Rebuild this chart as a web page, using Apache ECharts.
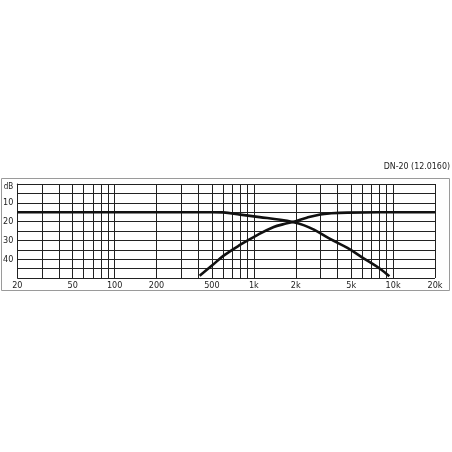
<!DOCTYPE html>
<html><head><meta charset="utf-8">
<script src="https://cdn.jsdelivr.net/npm/echarts@6/dist/echarts.min.js"></script>
<style>html,body{margin:0;padding:0;background:#fff}#c{width:452px;height:452px}</style>
</head><body><div id="c"></div>
<script>
const gridFreqs = [20,30,40,50,60,70,80,90,100,200,300,400,500,600,700,800,900,1000,2000,3000,4000,5000,6000,7000,8000,9000,10000,20000];
const labelFreqs = [20,50,100,200,500,1000,2000,5000,10000,20000];
const labelTexts = ['20','50','100','200','500','1k','2k','5k','10k','20k'];
const yLabelValues = [0,10,20,30,40];
const yLabelTexts = ['dB','10','20','30','40'];
const lowFreq = [20, 500, 600, 800, 1100, 1550, 1900, 2300, 2700, 3500, 4700, 6100, 8100, 9400];
const lowDb   = [15, 15, 15.1, 16.3, 17.6, 19.0, 20.2, 22.0, 24.3, 29.1, 34, 39.4, 45.2, 49.1];
const highFreq = [408, 500, 607, 800, 1050, 1390, 1650, 1900, 2400, 3000, 3600, 4700, 8000, 20000];
const highDb   = [48.8, 43.4, 38.1, 32.3, 27.3, 22.9, 21.3, 20.2, 17.9, 16.2, 15.6, 15.2, 15, 15];

const lg = Math.log10;
const chart = echarts.init(document.getElementById('c'), null, {renderer:'canvas'});
const font = "'DejaVu Sans Condensed','Open Sans',sans-serif";
chart.setOption({
  backgroundColor:'#fff',
  animation:false,
  title:{text:'DN-20 (12.0160)', right:2, top:162, padding:0, textStyle:{fontSize:8.8, fontWeight:'normal', color:'#222', fontFamily:font}},
  graphic:[{type:'rect', shape:{x:1.5,y:178.5,width:448,height:112}, style:{fill:null, stroke:'#9a9a9a', lineWidth:1}, z:-1}],
  grid:{left:17, top:184, width:418, height:94, containLabel:false},
  xAxis:{type:'value', min:lg(20), max:lg(20000),
    axisLine:{show:true, lineStyle:{color:'#222', width:1}},
    axisTick:{show:false, customValues:gridFreqs.map(lg)},
    splitLine:{show:true, lineStyle:{color:'#222', width:1}},
    axisLabel:{customValues:labelFreqs.map(lg), margin:3, fontSize:9, color:'#222', fontFamily:font,
      formatter:(v)=>{ for(let i=0;i<labelFreqs.length;i++){ if(Math.abs(lg(labelFreqs[i])-v)<1e-6) return labelTexts[i]; } return ''; }}
  },
  yAxis:{type:'value', inverse:true, min:0, max:50, interval:5,
    axisLine:{show:true, lineStyle:{color:'#222', width:1}},
    axisTick:{show:false},
    splitLine:{show:true, lineStyle:{color:'#222', width:1}},
    axisLabel:{margin:4, fontSize:9, color:'#222', fontFamily:font,
      formatter:(v)=>{ const i = yLabelValues.indexOf(v); return i>=0 ? (i===0 ? '{d|dB}' : yLabelTexts[i]) : ''; },
      rich:{d:{fontSize:8, padding:[5,0,0,0], fontFamily:font, color:'#222'}}}
  },
  series:[
    {type:'line', data:lowFreq.map((f,i)=>[lg(f), lowDb[i]]), showSymbol:false, smooth:0.4,
      lineStyle:{color:'#111', width:2.6}, z:5},
    {type:'line', data:highFreq.map((f,i)=>[lg(f), highDb[i]]), showSymbol:false, smooth:0.4,
      lineStyle:{color:'#111', width:2.6}, z:5}
  ]
});
</script></body></html>
